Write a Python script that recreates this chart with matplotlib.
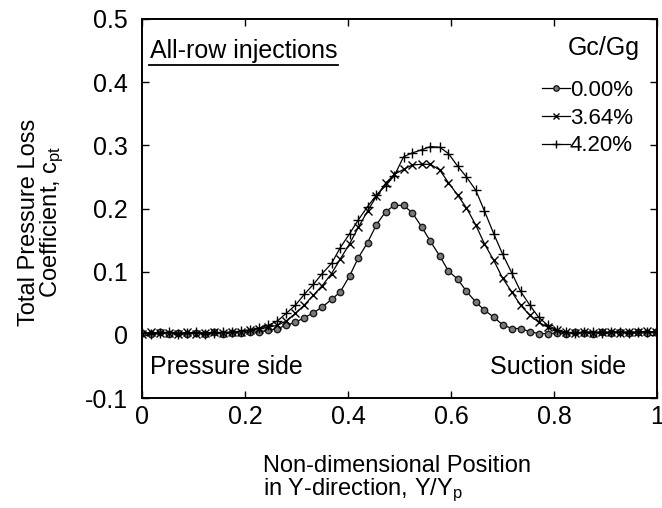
import matplotlib
matplotlib.use('Agg')
import matplotlib.pyplot as plt
from matplotlib.lines import Line2D
from matplotlib.transforms import IdentityTransform

plt.rcParams['font.family'] = ['Liberation Sans', 'DejaVu Sans']
plt.rcParams['mathtext.fontset'] = 'custom'
plt.rcParams['mathtext.rm'] = 'Liberation Sans'
plt.rcParams['mathtext.it'] = 'Liberation Sans:italic'

# ---- data ----
x_pos = [0.000, 0.018, 0.035, 0.053, 0.070, 0.088, 0.105, 0.123, 0.140, 0.158,
         0.175, 0.193, 0.210, 0.228, 0.245, 0.263, 0.280, 0.298, 0.315, 0.333,
         0.350, 0.368, 0.385, 0.403, 0.420, 0.438, 0.455, 0.473, 0.490, 0.508,
         0.525, 0.543, 0.560, 0.578, 0.595, 0.613, 0.630, 0.648, 0.665, 0.683,
         0.700, 0.718, 0.735, 0.753, 0.770, 0.788, 0.805, 0.823, 0.840, 0.858,
         0.875, 0.893, 0.910, 0.928, 0.945, 0.963, 0.980, 0.998]

cpt_000 = [0.003, 0.002, 0.004, 0.002, 0.003, 0.001, 0.003, 0.002, 0.004, 0.002,
           0.003, 0.003, 0.004, 0.005, 0.007, 0.010, 0.015, 0.020, 0.027, 0.035,
           0.044, 0.056, 0.068, 0.093, 0.122, 0.146, 0.174, 0.195, 0.205, 0.205,
           0.193, 0.171, 0.148, 0.125, 0.101, 0.088, 0.069, 0.052, 0.039, 0.028,
           0.016, 0.010, 0.010, 0.005, 0.002, 0.002, 0.003, 0.002, 0.004, 0.003,
           0.002, 0.004, 0.003, 0.005, 0.003, 0.004, 0.003, 0.005]

cpt_364 = [0.002, 0.004, 0.003, 0.003, 0.002, 0.004, 0.002, 0.003, 0.004, 0.003,
           0.004, 0.005, 0.007, 0.010, 0.012, 0.015, 0.022, 0.034, 0.047, 0.063,
           0.078, 0.097, 0.120, 0.144, 0.170, 0.196, 0.219, 0.240, 0.254, 0.262,
           0.269, 0.270, 0.270, 0.261, 0.241, 0.221, 0.201, 0.174, 0.144, 0.118,
           0.090, 0.068, 0.047, 0.031, 0.020, 0.012, 0.007, 0.004, 0.003, 0.004,
           0.003, 0.005, 0.004, 0.003, 0.005, 0.004, 0.006, 0.004]

cpt_420 = [0.003, 0.002, 0.003, 0.004, 0.002, 0.003, 0.004, 0.002, 0.003, 0.004,
           0.004, 0.006, 0.008, 0.011, 0.015, 0.022, 0.034, 0.047, 0.064, 0.080,
           0.097, 0.113, 0.138, 0.160, 0.182, 0.203, 0.221, 0.236, 0.252, 0.282,
           0.288, 0.293, 0.298, 0.297, 0.287, 0.267, 0.250, 0.229, 0.196, 0.160,
           0.128, 0.098, 0.069, 0.047, 0.028, 0.015, 0.008, 0.004, 0.003, 0.004,
           0.005, 0.003, 0.004, 0.005, 0.003, 0.004, 0.005, 0.004]

series_labels = ['0.00%', '3.64%', '4.20%']
x_ticks = [0, 0.2, 0.4, 0.6, 0.8, 1]
x_ticklabels = ['0', '0.2', '0.4', '0.6', '0.8', '1']
y_ticks = [-0.1, 0, 0.1, 0.2, 0.3, 0.4, 0.5]
y_ticklabels = ['-0.1', '0', '0.1', '0.2', '0.3', '0.4', '0.5']

# ---- figure ----
W, H = 662, 508
fig = plt.figure(figsize=(W / 100, H / 100), dpi=100)
L, R, T, B = 142, 657, 19, 398
ax = fig.add_axes([L / W, 1 - B / H, (R - L) / W, (B - T) / H])

ax.plot(x_pos, cpt_000, '-', color='black', lw=0.9, marker='o', ms=4.6,
        mfc='#7a7a7a', mec='#1a1a1a', mew=1.0, label=series_labels[0])
ax.plot(x_pos, cpt_364, '-', color='black', lw=0.9, marker='x', ms=5.5,
        mew=1.0, label=series_labels[1])
ax.plot(x_pos, cpt_420, '-', color='black', lw=0.9, marker='+', ms=6.5,
        mew=1.0, label=series_labels[2])

ax.set_xlim(0, 1)
ax.set_ylim(-0.1, 0.5)
ax.set_xticks(x_ticks)
ax.set_xticklabels(x_ticklabels)
ax.set_yticks(y_ticks)
ax.set_yticklabels(y_ticklabels)
ax.tick_params(axis='both', direction='in', top=True, right=True,
               length=5, width=1.0, labelsize=18)
ax.tick_params(axis='x', pad=5)
ax.tick_params(axis='y', pad=10)
for s in ax.spines.values():
    s.set_linewidth(1.4)

ax.set_xlabel('Non-dimensional Position\nin Y-direction, Y/Y$_\\mathrm{p}$',
              fontsize=17, multialignment='left', linespacing=1.0)
ax.xaxis.set_label_coords(0.496, -0.150)

fig.text(42 / W, 1 - 222 / H,
         'Total Pressure Loss\nCoefficient, c$_\\mathrm{pt}$',
         rotation=90, ha='center', va='center', multialignment='center',
         fontsize=17, linespacing=0.92)

t_all = ax.text(0.015, 0.449, 'All-row injections', fontsize=18,
                ha='left', va='center')
ax.text(0.015, -0.051, 'Pressure side', fontsize=18, ha='left', va='center')
ax.text(0.94, -0.051, 'Suction side', fontsize=18, ha='right', va='center')

# legend title as its own text, entries as legend
ax.text((640 - L) / (R - L), (B - 48) / (B - T), 'Gc/Gg', fontsize=18,
        ha='right', va='center', transform=ax.transAxes)
leg = ax.legend(loc='upper right',
                bbox_to_anchor=((633 - L) / (R - L), (B - 80) / (B - T)),
                frameon=False, handlelength=1.25, handletextpad=0.0,
                fontsize=16, numpoints=1, markerscale=0.85,
                labelspacing=0.3, borderpad=0, borderaxespad=0)

fig.canvas.draw()
bb = t_all.get_window_extent(fig.canvas.get_renderer())
fig.add_artist(Line2D([bb.x0 - 1, bb.x1 + 1], [bb.y0 - 2, bb.y0 - 2],
                      transform=IdentityTransform(), color='black', lw=1.3))

fig.savefig('out.png', dpi=100)
